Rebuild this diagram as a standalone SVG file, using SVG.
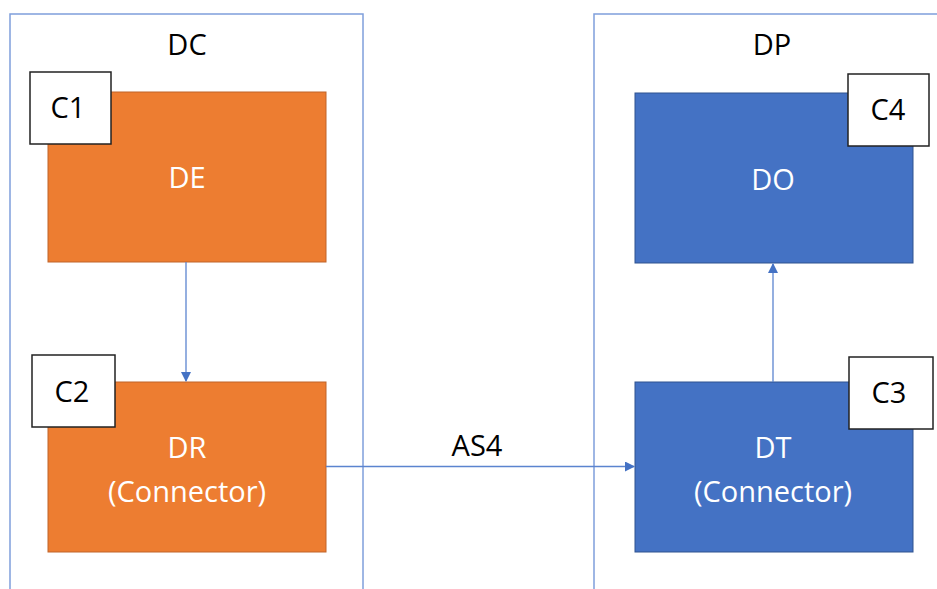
<svg xmlns="http://www.w3.org/2000/svg" width="937" height="589" viewBox="0 0 937 589">
<style>
.container{fill:none;stroke:#7f9fdb;stroke-width:1.5}
.orange{fill:#ED7D31;stroke:#C0652A;stroke-width:1}
.blue{fill:#4472C4;stroke:#2F528F;stroke-width:1}
.tag{fill:#fff;stroke:#222;stroke-width:1.5}
.t{font-family:"Open Sans","Liberation Sans",sans-serif;font-size:29px;text-anchor:middle}
.dark{fill:#000}
.light{fill:#fff}
.conn{stroke:#5b84cf;stroke-width:1.3;fill:none}
</style>
<defs>
<marker id="arr" markerWidth="10" markerHeight="10" refX="9" refY="5" orient="auto" markerUnits="userSpaceOnUse">
<path d="M0,0 L10,5 L0,10 Z" fill="#4472C4"/>
</marker>
</defs>
<rect width="937" height="589" fill="#fff"/>
<g id="DC">
<rect class="container" x="10" y="14" width="353" height="590"/>
<text class="t dark" x="187" y="55">DC</text>
</g>
<g id="DP">
<rect class="container" x="594" y="14" width="360" height="590"/>
<text class="t dark" x="772" y="55">DP</text>
</g>
<g id="DE">
<rect class="orange" x="48" y="92" width="278" height="170"/>
<text class="t light" x="187" y="188">DE</text>
</g>
<g id="C1">
<rect class="tag" x="30" y="72" width="81" height="72"/>
<text class="t dark" x="68" y="118">C1</text>
</g>
<g id="DR">
<rect class="orange" x="48" y="382" width="278" height="170"/>
<text class="t light" x="187" y="458">DR</text>
<text class="t light" x="187" y="502">(Connector)</text>
</g>
<g id="C2">
<rect class="tag" x="32" y="355" width="83" height="72"/>
<text class="t dark" x="72" y="402">C2</text>
</g>
<g id="DO">
<rect class="blue" x="635" y="93" width="278" height="170"/>
<text class="t light" x="773" y="190">DO</text>
</g>
<g id="C4">
<rect class="tag" x="848" y="74" width="81" height="72"/>
<text class="t dark" x="888" y="120">C4</text>
</g>
<g id="DT">
<rect class="blue" x="635" y="382" width="278" height="170"/>
<text class="t light" x="773" y="458">DT</text>
<text class="t light" x="773" y="502">(Connector)</text>
</g>
<g id="C3">
<rect class="tag" x="849" y="357" width="84" height="72"/>
<text class="t dark" x="889" y="403">C3</text>
</g>
<g id="connectors">
<line class="conn" x1="186" y1="262" x2="186" y2="381" marker-end="url(#arr)"/>
<line class="conn" x1="773" y1="382" x2="773" y2="264" marker-end="url(#arr)"/>
<line class="conn" x1="326" y1="466.5" x2="634" y2="466.5" marker-end="url(#arr)"/>
<text class="t dark" x="477" y="456">AS4</text>
</g>
</svg>
